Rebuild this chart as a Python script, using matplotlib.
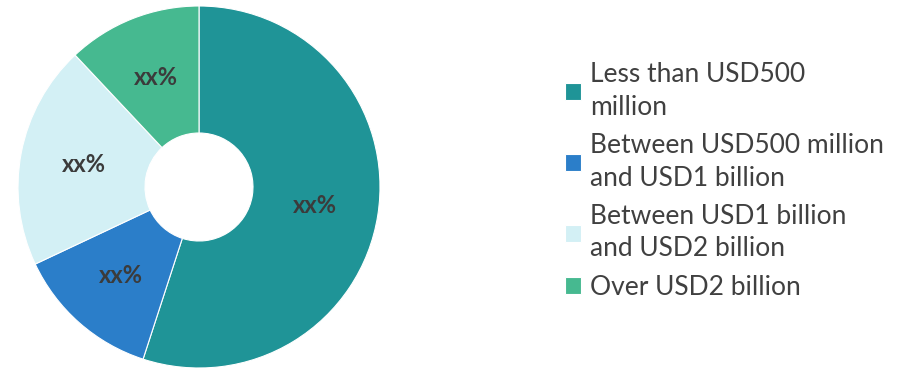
import numpy as np
import matplotlib.pyplot as plt

# Share of companies by size band
categories = [
    "Less than USD500\nmillion",
    "Between USD500 million\nand USD1 billion",
    "Between USD1 billion\nand USD2 billion",
    "Over USD2 billion",
]
shares = [55, 13, 20, 12]
slice_labels = ["xx%", "xx%", "xx%", "xx%"]
colors = ["#1f9497", "#2b7ec9", "#d3f0f5", "#46b990"]

fig = plt.figure(figsize=(9.09, 3.69), dpi=100)
ax = fig.add_axes([0, 0, 1, 1])

# axes in pixel units so the ring sits where we want it
cx, cy, outer, ring = 199, 182, 181, 127
wedges, _ = ax.pie(
    shares,
    colors=colors,
    startangle=90,
    counterclock=False,
    center=(cx, cy),
    radius=outer,
    wedgeprops=dict(width=ring, edgecolor="white", linewidth=0.8),
)

# slice labels at the middle of the ring
for w, lab in zip(wedges, slice_labels):
    mid = np.deg2rad((w.theta1 + w.theta2) / 2)
    r = outer - ring / 2
    ax.text(cx + r * np.cos(mid), cy + r * np.sin(mid), lab,
            ha="center", va="center", fontsize=17, fontweight="bold",
            family="Lato", color="#3b3b3b")

ax.set_xlim(0, 909)
ax.set_ylim(0, 369)
ax.set_aspect("auto")
ax.axis("off")

leg = ax.legend(
    wedges, categories,
    loc="center left",
    bbox_to_anchor=(565 / 909, 1 - 181 / 369),
    bbox_transform=fig.transFigure,
    frameon=False,
    borderpad=0, borderaxespad=0,
    handlelength=0.6, handleheight=0.6, handletextpad=0.35,
    labelspacing=0.5,
    prop={"family": "Lato", "size": 19},
)
for t in leg.get_texts():
    t.set_color("#404040")
    t.set_linespacing(1.38)

fig.savefig("out.png", dpi=100)
